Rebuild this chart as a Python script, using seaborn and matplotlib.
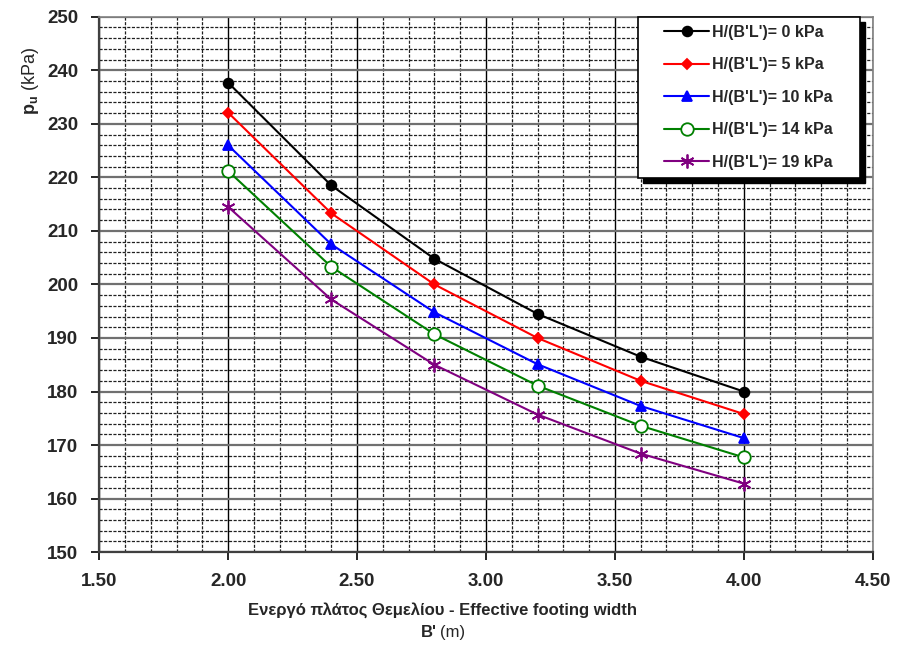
import numpy as np
import pandas as pd
import matplotlib
matplotlib.use("Agg")
import matplotlib.pyplot as plt
from matplotlib.patches import Rectangle
from matplotlib.ticker import MultipleLocator, FormatStrFormatter
import seaborn as sns

# effective footing width B' (m)
b_width = [2.0, 2.4, 2.8, 3.2, 3.6, 4.0]

# ultimate bearing capacity p_u (kPa) for each H/(B'L') value
pu_h0 = [237.7, 218.5, 204.8, 194.5, 186.5, 180.0]
pu_h5 = [232.1, 213.3, 200.0, 190.0, 182.0, 175.8]
pu_h10 = [226.0, 207.5, 194.8, 185.1, 177.3, 171.3]
pu_h14 = [221.2, 203.3, 190.7, 181.1, 173.6, 167.7]
pu_h19 = [214.5, 197.2, 185.0, 175.7, 168.4, 162.8]

series_names = ["H/(B'L')= 0 kPa", "H/(B'L')= 5 kPa", "H/(B'L')= 10 kPa",
                "H/(B'L')= 14 kPa", "H/(B'L')= 19 kPa"]
series_vals = [pu_h0, pu_h5, pu_h10, pu_h14, pu_h19]

rows = []
for name, vals in zip(series_names, series_vals):
    for b, p in zip(b_width, vals):
        rows.append({"B": b, "pu": p, "case": name})
df = pd.DataFrame(rows)

sns.set_style("white")
plt.rcParams['font.family'] = ['Liberation Sans', 'DejaVu Sans']
plt.rcParams['mathtext.fontset'] = 'custom'
plt.rcParams['mathtext.bf'] = 'Liberation Sans:bold'
plt.rcParams['mathtext.rm'] = 'Liberation Sans'
plt.rcParams['mathtext.it'] = 'Liberation Sans:italic'

colors = ['black', 'red', 'blue', 'green', 'purple']
markers = ['o', 'D', '^', 'o', (6, 2, 0)]
msizes = [7, 5.5, 7, 9, 10]
mfaces = ['black', 'red', 'blue', 'white', 'purple']

fig = plt.figure(figsize=(9.1, 6.45), dpi=100)
ax = fig.add_axes([0.109, 0.144, 0.85, 0.830])

for i, name in enumerate(series_names):
    sub = df[df.case == name]
    sns.lineplot(data=sub, x="B", y="pu", ax=ax, color=colors[i], linewidth=1.5,
                 marker=markers[i], markersize=msizes[i], markerfacecolor=mfaces[i],
                 markeredgecolor=colors[i], markeredgewidth=1.3, label=name, zorder=5)

ax.set_xlim(1.5, 4.5)
ax.set_ylim(150, 250)
ax.xaxis.set_major_locator(MultipleLocator(0.5))
ax.xaxis.set_minor_locator(MultipleLocator(0.1))
ax.yaxis.set_major_locator(MultipleLocator(10))
ax.yaxis.set_minor_locator(MultipleLocator(2))
ax.xaxis.set_major_formatter(FormatStrFormatter('%.2f'))

ax.grid(which='major', axis='y', color='#707070', linewidth=1.6, linestyle='-')
ax.grid(which='major', axis='x', color='black', linewidth=1.0, linestyle='-')
ax.grid(which='minor', axis='both', color='#202020', linewidth=0.9, linestyle=(0, (2.5, 1.2)))
ax.set_axisbelow(True)

for s in ['left', 'bottom']:
    ax.spines[s].set_color('#404040')
    ax.spines[s].set_linewidth(1.6)
for s in ['top', 'right']:
    ax.spines[s].set_color('#808080')
    ax.spines[s].set_linewidth(1.2)

ax.tick_params(axis='both', which='major', direction='out', length=6, width=1.2,
               color='black', labelsize=13.5, bottom=True, left=True)
ax.tick_params(axis='x', which='major', pad=9)
ax.tick_params(axis='y', which='major', pad=9)
ax.tick_params(axis='both', which='minor', length=0)
for lab in ax.get_xticklabels() + ax.get_yticklabels():
    lab.set_fontweight('bold')

ax.set_xlabel("")
ax.set_ylabel("")
fig.text(0.486, 0.054, "Ενεργό πλάτος Θεμελίου - Effective footing width",
         ha='center', va='center', fontsize=12, fontweight='bold')
fig.text(0.480, 0.019, "B'", ha='right', va='center', fontsize=12, fontweight='bold')
fig.text(0.484, 0.019, "(m)", ha='left', va='center', fontsize=12)
fig.text(0.033, 0.875, r"$\mathbf{p_u}$ (kPa)", ha='center', va='center',
         fontsize=13, rotation=90)

# legend box with solid black drop shadow
bx0, by0, bw, bh = 0.696, 0.699, 0.287, 0.301
ax.add_patch(Rectangle((bx0 + 0.0065, by0 - 0.0093), bw, bh, transform=ax.transAxes,
                       facecolor='black', edgecolor='black', zorder=9, clip_on=False))
ax.add_patch(Rectangle((bx0, by0), bw, bh, transform=ax.transAxes,
                       facecolor='white', edgecolor='black', linewidth=1.2,
                       zorder=9.5, clip_on=False))

leg = ax.legend(loc='center', bbox_to_anchor=(bx0 + bw / 2, by0 + bh / 2),
                borderaxespad=0, frameon=False, handlelength=2.8, labelspacing=1.1,
                borderpad=0.2, handletextpad=0.2,
                prop={'weight': 'bold', 'size': 11.5})
leg.set_zorder(10)

fig.savefig("out.png", dpi=100, facecolor='white')
